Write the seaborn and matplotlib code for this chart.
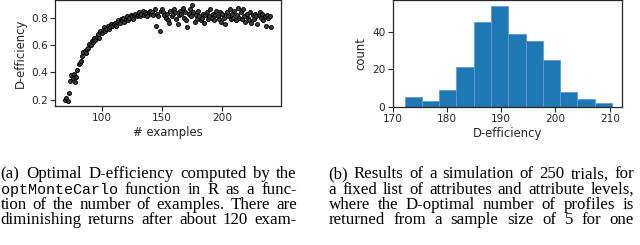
import matplotlib
matplotlib.use("Agg")
import matplotlib.pyplot as plt
import seaborn as sns
import numpy as np
import pandas as pd

# ---------------- data ----------------
n_examples = list(range(70, 241))
d_efficiency = [
    0.20, 0.21, 0.19, 0.25, 0.34, 0.38, 0.36, 0.39, 0.33, 0.37,
    0.42, 0.46, 0.47, 0.48, 0.52, 0.55, 0.56, 0.54, 0.57, 0.58,
    0.61, 0.60, 0.63, 0.62, 0.65, 0.64, 0.66, 0.68, 0.65, 0.70,
    0.69, 0.71, 0.73, 0.70, 0.72, 0.74, 0.72, 0.73, 0.75, 0.74,
    0.75, 0.76, 0.74, 0.77, 0.78, 0.76, 0.79, 0.78, 0.80, 0.77,
    0.79, 0.81, 0.78, 0.80, 0.82, 0.81, 0.79, 0.82, 0.83, 0.81,
    0.82, 0.84, 0.81, 0.83, 0.85, 0.82, 0.84, 0.83, 0.81, 0.84,
    0.85, 0.83, 0.84, 0.82, 0.86, 0.74, 0.83, 0.81, 0.70, 0.85,
    0.86, 0.84, 0.82, 0.80, 0.83, 0.78, 0.76, 0.85, 0.81, 0.83,
    0.86, 0.84, 0.79, 0.75, 0.82, 0.85, 0.83, 0.87, 0.80, 0.84,
    0.78, 0.73, 0.83, 0.86, 0.81, 0.89, 0.84, 0.77, 0.82, 0.79,
    0.85, 0.81, 0.78, 0.80, 0.83, 0.76, 0.82, 0.84, 0.79, 0.81,
    0.86, 0.80, 0.83, 0.78, 0.82, 0.85, 0.81, 0.79, 0.84, 0.77,
    0.83, 0.80, 0.75, 0.82, 0.84, 0.81, 0.86, 0.79, 0.83, 0.80,
    0.85, 0.78, 0.82, 0.87, 0.80, 0.84, 0.79, 0.86, 0.81, 0.77,
    0.83, 0.80, 0.78, 0.84, 0.76, 0.82, 0.79, 0.83, 0.81, 0.75,
    0.82, 0.84, 0.80, 0.83, 0.78, 0.81, 0.74, 0.82, 0.80, 0.81,
    0.73,
]

hist_counts = [5, 3, 9, 21, 45, 54, 39, 35, 25, 8, 4, 2]
hist_min = 172.2
hist_max = 210.4

scatter_xlabel = "# examples"
scatter_ylabel = "D-efficiency"
hist_xlabel = "D-efficiency"
hist_ylabel = "count"

caption_a = [
    "(a) Optimal D-efficiency computed by the",
    "optMonteCarlo function in R as a func-",
    "tion of the number of examples. There are",
    "diminishing returns after about 120 exam-",
]
caption_b = [
    "(b) Results of a simulation of 250 trials, for",
    "a fixed list of attributes and attribute levels,",
    "where the D-optimal number of profiles is",
    "returned from a sample size of 5 for one",
]
mono_words = {"optMonteCarlo"}

# ---------------- style ----------------
sns.set_style("ticks")
plt.rcParams["font.family"] = ["DejaVu Sans"]
W, H = 640, 245
fig = plt.figure(figsize=(W / 100, H / 100), dpi=100)
dark = "#262626"


def ax_rect(l, t, r, b):
    return [l / W, 1 - b / H, (r - l) / W, (b - t) / H]


ax1 = fig.add_axes(ax_rect(55, 0.5, 281, 106))
ax2 = fig.add_axes(ax_rect(392.7, 0.5, 622.3, 106.7))

df_sc = pd.DataFrame({"n": n_examples, "d": d_efficiency})
sns.scatterplot(data=df_sc, x="n", y="d", ax=ax1, s=8, color="0.25",
                edgecolor="black", linewidth=0.7)
ax1.set_xticks([100, 150, 200])
ax1.set_yticks([0.2, 0.4, 0.6, 0.8])

edges = [float(e) for e in np.linspace(hist_min, hist_max, len(hist_counts) + 1)]
centers = [(a + b) / 2 for a, b in zip(edges[:-1], edges[1:])]
df_h = pd.DataFrame({"v": centers, "w": hist_counts})
sns.histplot(data=df_h, x="v", weights="w", bins=edges, ax=ax2,
             color="#1f77b4", alpha=1, edgecolor="#5b9bd0", linewidth=0.6)
ax2.set_xticks([170, 180, 190, 200, 210])
ax2.set_yticks([0, 20, 40])

for ax, xl, yl in [(ax1, scatter_xlabel, scatter_ylabel), (ax2, hist_xlabel, hist_ylabel)]:
    ax.set_xlabel(xl, fontsize=8.4, color=dark, labelpad=2)
    ax.set_ylabel(yl, fontsize=8.4, color=dark, labelpad=3)
    ax.tick_params(labelsize=7.6, length=3.3, width=0.8, colors=dark, pad=2)
    for sp in ax.spines.values():
        sp.set_linewidth(0.9)
        sp.set_color(dark)

# ---------------- captions (justified) ----------------
renderer = fig.canvas.get_renderer()


def justify(lines, x0, x1, baselines):
    for line, yb in zip(lines, baselines):
        words = line.split(" ")
        texts = []
        for w_ in words:
            if w_ in mono_words:
                t = fig.text(0, 0, w_, fontsize=10.8, family="Liberation Mono",
                             color="black", va="baseline", ha="left")
            else:
                t = fig.text(0, 0, w_, fontsize=12.2, family="Liberation Serif",
                             color="black", va="baseline", ha="left")
            texts.append(t)
        widths = [t.get_window_extent(renderer).width for t in texts]
        gap = (x1 - x0 - sum(widths)) / max(len(texts) - 1, 1)
        x = x0
        for t, wd in zip(texts, widths):
            t.set_position((x / W, 1 - yb / H))
            x += wd + gap


base = [178.5, 193.8, 209.1, 224.4]
justify(caption_a, 0.5, 297, base)
justify(caption_b, 328.5, 634, base)

fig.savefig("out.png", dpi=100)
